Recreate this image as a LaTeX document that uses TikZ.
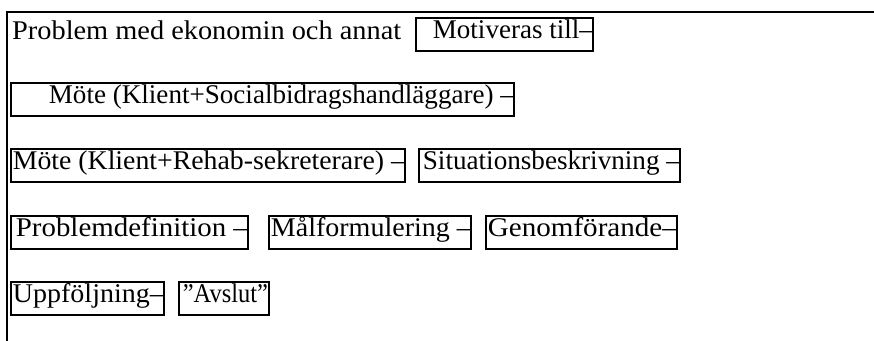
\documentclass[tikz,border=0pt]{standalone}
\usepackage{fontspec}
\usepackage{graphicx}
\setmainfont{Liberation Serif}
\newcommand{\fitw}[2]{\resizebox{#1}{\height}{#2}}
\begin{document}
\begin{tikzpicture}[x=1pt,y=-1pt,
  bx/.style={draw=black, line width=1.8pt, inner xsep=0pt, inner ysep=0pt,
    text height=21pt, text depth=12pt, anchor=north west,
    font=\fontsize{27}{32}\selectfont},
  plain/.style={inner sep=0pt, anchor=base west, font=\fontsize{27}{32}\selectfont},
  frame/.style={draw=black, line width=2pt}]
\useasboundingbox (0,0) rectangle (874,340);
\clip (0,0) rectangle (874,340);
\draw[frame] (7,350) -- (7,12) -- (890,12);
\node[plain] (prob) at (12,39) {\fitw{389pt}{Problem med ekonomin och annat}};
\node[bx] (motiv) at (415,17) {\makebox[177pt][l]{\hspace{17pt}\fitw{160pt}{Motiveras till–}}};
\node[bx] (mote1) at (10,82) {\makebox[503pt][l]{\hspace{38pt}\fitw{465pt}{Möte (Klient+Socialbidragshandläggare) –}}};
\node[bx] (mote2) at (10,148) {\makebox[394pt][l]{\hspace{2pt}\fitw{392pt}{Möte (Klient+Rehab-sekreterare) –}}};
\node[bx] (sit) at (418,148) {\makebox[261pt][l]{\hspace{4pt}\fitw{257pt}{Situationsbeskrivning –}}};
\node[bx] (pdef) at (10,215) {\makebox[237pt][l]{\hspace{5pt}\fitw{232pt}{Problemdefinition –}}};
\node[bx] (malf) at (268,215) {\makebox[202pt][l]{\hspace{2pt}\fitw{200pt}{Målformulering –}}};
\node[bx] (genom) at (485,215) {\makebox[191pt][l]{\hspace{2pt}\fitw{189pt}{Genomförande–}}};
\node[bx] (uppf) at (10,281) {\makebox[153pt][l]{\hspace{2pt}\fitw{151pt}{Uppföljning–}}};
\node[bx] (avsl) at (178,281) {\makebox[90pt][l]{\hspace{4pt}\fitw{85pt}{”Avslut”}}};
\end{tikzpicture}
\end{document}
